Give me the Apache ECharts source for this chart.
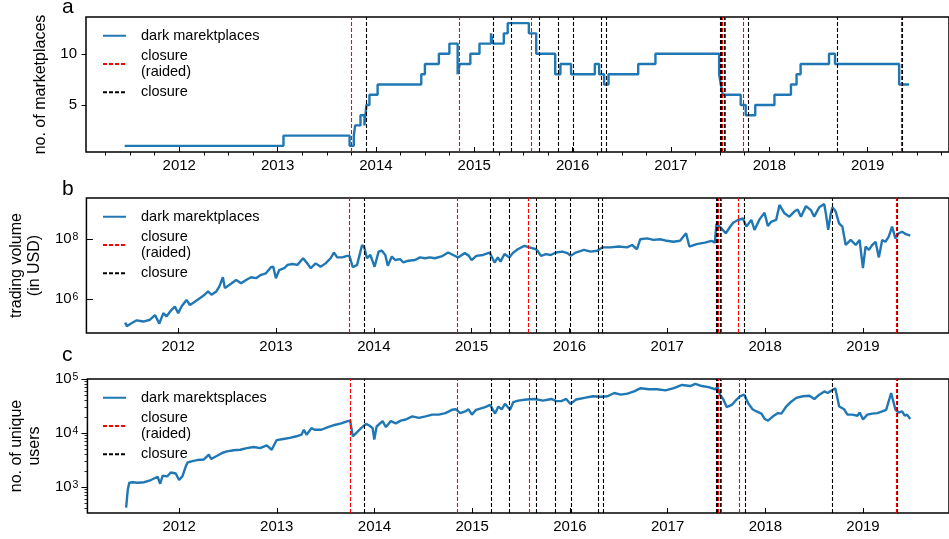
<!DOCTYPE html>
<html><head><meta charset="utf-8">
<script src="https://cdn.jsdelivr.net/npm/echarts@6/dist/echarts.min.js"></script>
<style>html,body{margin:0;padding:0;background:#fff}#c{width:949px;height:539px}</style>
</head><body><div id="c"></div>
<script>
// ---------------- data ----------------
const yearTicks = [2012, 2013, 2014, 2015, 2016, 2017, 2018, 2019];
const quarterTicks = [2011.25, 2011.5, 2011.75, 2012.25, 2012.5, 2012.75, 2013.25, 2013.5, 2013.75,
  2014.25, 2014.5, 2014.75, 2015.25, 2015.5, 2015.75, 2016.25, 2016.5, 2016.75, 2017.25, 2017.5, 2017.75,
  2018.25, 2018.5, 2018.75, 2019.25, 2019.5, 2019.75];
const countTicks = [5, 10];
const volumeTicks = [1e6, 1e8];
const usersTicks = [1e3, 1e4, 1e5];
const usersMinorTicks = [400, 500, 600, 700, 800, 900, 2000, 3000, 4000, 5000, 6000, 7000, 8000, 9000,
  20000, 30000, 40000, 50000, 60000, 70000, 80000, 90000];

// number of marketplaces: [date of change, new count]
const marketCount = [[2011.445,1],[2013.06,2],[2013.732,1],[2013.775,2],[2013.789,3],[2013.843,4],[2013.883,3],
  [2013.903,5],[2013.934,6],[2014.017,7],[2014.461,8],[2014.498,9],[2014.64,10],[2014.747,11],[2014.831,8],
  [2014.851,9],[2014.96,10],[2015.053,11],[2015.17,12],[2015.19,11],[2015.30,12],[2015.34,13],[2015.555,12],
  [2015.63,10],[2015.823,8],[2015.876,9],[2015.984,8],[2016.226,9],[2016.27,8],[2016.32,7],[2016.365,8],
  [2016.667,9],[2016.842,10],[2017.49,8],[2017.507,7],[2017.527,6],[2017.709,5],[2017.76,4],[2017.857,5],
  [2018.052,6],[2018.22,7],[2018.277,8],[2018.318,9],[2018.607,10],[2018.668,9],[2019.32,7],[2019.42,7]];

// trading volume in USD
const tradingVolume = [[2011.458,1.7e5],[2011.475,1.26e5],[2011.526,1.62e5],[2011.577,2.0e5],[2011.644,1.82e5],
  [2011.712,2.09e5],[2011.763,3.0e5],[2011.807,1.55e5],[2011.848,3.47e5],[2011.88,2.69e5],[2011.932,4.47e5],
  [2011.966,5.75e5],[2012.0,3.47e5],[2012.034,5.75e5],[2012.085,9.5e5],[2012.12,6.46e5],[2012.17,8.3e5],
  [2012.22,1.07e6],[2012.27,1.41e6],[2012.305,1.82e6],[2012.34,1.41e6],[2012.39,1.82e6],[2012.42,2.63e6],
  [2012.457,5.37e6],[2012.477,2.34e6],[2012.525,3.02e6],[2012.593,4.37e6],[2012.643,3.39e6],[2012.694,4.37e6],
  [2012.745,5.37e6],[2012.796,5.0e6],[2012.847,6.46e6],[2012.897,7.24e6],[2012.948,1.15e7],[2012.972,1.2e7],
  [2012.999,5.0e6],[2013.033,9.3e6],[2013.084,1.07e7],[2013.118,1.38e7],[2013.168,1.48e7],[2013.219,1.38e7],
  [2013.277,2.29e7],[2013.32,1.55e7],[2013.355,1.07e7],[2013.405,1.55e7],[2013.456,1.2e7],[2013.507,1.55e7],
  [2013.558,2.29e7],[2013.592,3.55e7],[2013.626,2.45e7],[2013.676,2.45e7],[2013.727,2.75e7],[2013.751,2.75e7],
  [2013.785,1.15e7],[2013.829,1.38e7],[2013.852,2.75e7],[2013.88,6.3e7],[2013.903,5.25e7],[2013.93,2.29e7],
  [2013.964,2.95e7],[2014.008,1.2e7],[2014.049,3.8e7],[2014.083,4.07e7],[2014.117,2.95e7],[2014.143,1.29e7],
  [2014.184,2.63e7],[2014.218,2.0e7],[2014.269,2.14e7],[2014.303,1.66e7],[2014.354,1.9e7],[2014.421,2.0e7],
  [2014.472,2.45e7],[2014.523,2.29e7],[2014.574,2.45e7],[2014.624,2.29e7],[2014.692,2.63e7],[2014.76,3.55e7],
  [2014.81,2.95e7],[2014.861,2.45e7],[2014.929,3.39e7],[2014.97,2.8e7],[2015.0,2.0e7],[2015.048,2.75e7],
  [2015.116,2.95e7],[2015.184,3.55e7],[2015.234,1.66e7],[2015.268,2.45e7],[2015.295,1.78e7],[2015.336,3.16e7],
  [2015.387,2.45e7],[2015.42,3.39e7],[2015.471,4.57e7],[2015.539,5.9e7],[2015.59,5.25e7],[2015.658,4.57e7],
  [2015.68,3.8e7],[2015.709,2.75e7],[2015.76,3.16e7],[2015.81,2.95e7],[2015.86,3.55e7],[2015.928,3.8e7],
  [2015.98,3.39e7],[2016.013,2.75e7],[2016.064,3.55e7],[2016.149,4.37e7],[2016.216,3.8e7],[2016.284,4.07e7],
  [2016.335,5.25e7],[2016.42,5.25e7],[2016.504,5.62e7],[2016.589,5.25e7],[2016.64,6.3e7],[2016.69,4.57e7],
  [2016.724,9.8e7],[2016.792,1.05e8],[2016.86,9.3e7],[2016.928,9.8e7],[2016.995,8.7e7],[2017.063,8.1e7],
  [2017.13,8.7e7],[2017.192,1.55e8],[2017.226,5.62e7],[2017.3,6.76e7],[2017.385,7.6e7],[2017.452,8.7e7],
  [2017.486,7.6e7],[2017.503,3.16e8],[2017.554,2.24e8],[2017.598,1.55e8],[2017.639,2.45e8],[2017.673,3.47e8],
  [2017.723,4.27e8],[2017.774,4.79e8],[2017.808,2.57e8],[2017.859,4.27e8],[2017.892,2.0e8],[2017.943,4.47e8],
  [2017.994,7.4e8],[2018.028,2.69e8],[2018.062,3.72e8],[2018.113,4.27e8],[2018.147,1.35e9],[2018.198,7.08e8],
  [2018.248,5.5e8],[2018.299,8.1e8],[2018.333,9.5e8],[2018.367,5.5e8],[2018.418,1.23e9],[2018.468,9.1e8],
  [2018.502,5.5e8],[2018.553,1.12e9],[2018.604,1.45e9],[2018.621,7.08e8],[2018.645,2.0e8],[2018.672,7.08e8],
  [2018.689,1.12e9],[2018.722,8.1e8],[2018.756,3.3e8],[2018.79,2.57e8],[2018.824,6.3e7],[2018.875,9.3e7],
  [2018.926,6.3e7],[2018.966,9.3e7],[2019.0,1.07e7],[2019.027,5.62e7],[2019.061,4.37e7],[2019.095,6.3e7],
  [2019.129,8.1e7],[2019.163,2.45e7],[2019.197,9.3e7],[2019.23,8.1e7],[2019.264,1.2e8],[2019.298,2.57e8],
  [2019.332,1.05e8],[2019.366,1.55e8],[2019.4,1.74e8],[2019.433,1.48e8],[2019.484,1.29e8]];

// number of unique users
const uniqueUsers = [[2011.458,417],[2011.475,890],[2011.49,1200],[2011.526,1230],[2011.577,1200],[2011.644,1230],
  [2011.712,1350],[2011.78,1550],[2011.807,1150],[2011.831,1620],[2011.88,1580],[2011.915,1860],[2011.966,1780],
  [2012.0,1350],[2012.034,1580],[2012.068,2400],[2012.085,2820],[2012.135,3020],[2012.186,3160],[2012.254,3240],
  [2012.305,3980],[2012.328,3310],[2012.39,3800],[2012.44,4270],[2012.49,4570],[2012.559,4790],[2012.626,4900],
  [2012.694,5250],[2012.762,5500],[2012.83,5250],[2012.897,5890],[2012.948,4900],[2012.999,7410],[2013.067,7760],
  [2013.135,8130],[2013.202,8710],[2013.253,9330],[2013.277,11500],[2013.304,9330],[2013.355,12300],
  [2013.388,11500],[2013.456,11500],[2013.524,12900],[2013.592,14100],[2013.659,15100],[2013.727,16600],
  [2013.751,17000],[2013.778,8710],[2013.812,10000],[2013.863,12300],[2013.914,14800],[2013.947,13800],
  [2013.981,12300],[2013.998,7590],[2014.022,13200],[2014.083,16600],[2014.117,12900],[2014.167,16600],
  [2014.218,15100],[2014.269,17000],[2014.32,17800],[2014.387,20400],[2014.455,19100],[2014.523,20400],
  [2014.591,21900],[2014.658,21900],[2014.726,23400],[2014.793,26900],[2014.834,27500],[2014.878,23400],
  [2014.929,25100],[2014.963,27500],[2014.997,21900],[2015.04,26900],[2015.133,30200],[2015.184,33100],
  [2015.234,22900],[2015.268,30900],[2015.302,27500],[2015.336,34700],[2015.387,26900],[2015.42,37200],
  [2015.471,39800],[2015.556,41700],[2015.641,42700],[2015.725,39800],[2015.81,42700],[2015.86,38900],
  [2015.912,38900],[2015.962,42700],[2016.006,34700],[2016.064,41700],[2016.149,44700],[2016.233,47900],
  [2016.318,46800],[2016.386,47900],[2016.454,55000],[2016.521,51300],[2016.589,53700],[2016.657,58900],
  [2016.724,67600],[2016.809,64600],[2016.894,64600],[2016.978,61700],[2017.063,67600],[2017.148,77600],
  [2017.232,74100],[2017.283,81300],[2017.351,74100],[2017.419,70800],[2017.486,64600],[2017.51,70800],
  [2017.537,51300],[2017.571,41700],[2017.605,30200],[2017.656,33100],[2017.706,41700],[2017.74,47900],
  [2017.784,51300],[2017.825,35500],[2017.869,27500],[2017.91,25100],[2017.96,22900],[2017.994,18200],
  [2018.028,17000],[2018.079,20400],[2018.13,23400],[2018.164,22900],[2018.214,30900],[2018.265,38000],
  [2018.316,44700],[2018.384,47900],[2018.451,49000],[2018.502,42700],[2018.553,51300],[2018.604,58900],
  [2018.638,55000],[2018.682,61700],[2018.716,67600],[2018.756,30900],[2018.807,27500],[2018.841,21900],
  [2018.892,21900],[2018.943,20900],[2018.966,24000],[2019.0,17800],[2019.044,21900],[2019.095,22900],
  [2019.146,23400],[2019.197,25100],[2019.237,26900],[2019.288,55000],[2019.332,26900],[2019.366,24000],
  [2019.4,25100],[2019.427,20900],[2019.45,21900],[2019.484,18200]];

// closure dates (decimal years)
const raidedClosures = [2013.75, 2014.845, 2015.58, 2017.523, 2017.553, 2017.73, 2019.336];
const closures = [2013.905, 2015.195, 2015.382, 2015.656, 2015.846, 2016.005, 2016.287, 2016.342,
  2017.497, 2017.51, 2017.538, 2017.785, 2018.688, 2019.346];

// ---------------- chart ----------------
const FONT = '"Liberation Sans", Arial, Helvetica, sans-serif';
const BLUE = '#1f77b4';
const RED = '#ff0000';
const BLACK = '#000000';
const chart = echarts.init(document.getElementById('c'), null, {renderer: 'canvas'});

const supRich = {
  b: {fontSize: 15, fontFamily: FONT, color: '#000', lineHeight: 15, verticalAlign: 'bottom'},
  s: {fontSize: 10.5, fontFamily: FONT, color: '#000', lineHeight: 10, verticalAlign: 'top', padding: [0, 0, 12, 1]}
};
const supFmt = v => '{b|10}{s|' + Math.round(Math.log10(v)) + '}';

function xMajor(gridIndex, min, max) {
  return {type: 'value', gridIndex, min, max, position: 'bottom',
    axisLine: {show: false}, splitLine: {show: false},
    axisTick: {show: true, inside: true, length: 5, customValues: yearTicks, lineStyle: {color: '#000', width: 1}},
    axisLabel: {show: true, customValues: yearTicks, margin: 6, fontSize: 15, color: '#000', fontFamily: FONT,
      formatter: v => String(Math.round(v))}};
}

function legendFor(top, firstName) {
  return {orient: 'vertical', left: 102, top, padding: 0, itemGap: 5, itemWidth: 23, itemHeight: 12,
    selectedMode: false, data: [firstName, 'closure\n(raided)', 'closure'],
    itemStyle: {opacity: 0, borderWidth: 0},
    textStyle: {fontSize: 14.5, lineHeight: 15.5, color: '#000', fontFamily: FONT, padding: [0, 0, 0, 10]}};
}

function closureSeries(name, color, values, xi, yi, z) {
  return {type: 'line', name, xAxisIndex: xi, yAxisIndex: yi, data: [], symbol: 'none', showSymbol: false,
    color, itemStyle: {color}, lineStyle: {color, width: 1.1, type: [4, 2]}, z,
    markLine: {silent: true, symbol: ['none', 'none'], label: {show: false}, animation: false, z,
      lineStyle: {color, width: 1.1, type: [4, 2], opacity: 1}, emphasis: {disabled: true},
      data: values.map(v => ({xAxis: v, lineStyle: {color, width: 1.1, type: [4, 2], opacity: 1}}))}};
}

function dataSeries(name, data, xi, yi, step) {
  const s = {type: 'line', name, xAxisIndex: xi, yAxisIndex: yi, data, symbol: 'none', showSymbol: false,
    color: BLUE, itemStyle: {color: BLUE}, lineStyle: {color: BLUE, width: 2.4}, z: 2};
  if (step) s.step = step;
  return s;
}

const gridStyle = {show: true, borderColor: '#000', borderWidth: 1.5, backgroundColor: 'transparent'};

const option = {
  animation: false,
  backgroundColor: '#fff',
  textStyle: {fontFamily: FONT},
  grid: [
    Object.assign({left: 86, top: 17, width: 870, height: 135}, gridStyle),
    Object.assign({left: 86, top: 198, width: 868, height: 135}, gridStyle),
    Object.assign({left: 86, top: 379, width: 868, height: 134}, gridStyle)
  ],
  xAxis: [
    xMajor(0, 2011.052, 2019.827),
    {type: 'value', gridIndex: 0, min: 2011.052, max: 2019.827, position: 'bottom',
      axisLine: {show: false}, splitLine: {show: false}, axisLabel: {show: false},
      axisTick: {show: true, inside: false, length: 3.5, customValues: quarterTicks, lineStyle: {color: '#000', width: 1}}},
    xMajor(1, 2011.062, 2019.88),
    xMajor(2, 2011.062, 2019.88)
  ],
  yAxis: [
    {type: 'value', gridIndex: 0, min: 0.4, max: 13.6, position: 'left',
      axisLine: {show: false}, splitLine: {show: false},
      axisTick: {show: true, inside: false, length: 4.5, customValues: countTicks, lineStyle: {color: '#000', width: 1}},
      axisLabel: {customValues: countTicks, margin: 9, fontSize: 15, color: '#000', fontFamily: FONT, formatter: v => String(v)},
      name: 'no. of marketplaces', nameLocation: 'middle', nameRotate: 90, nameGap: 34,
      nameTextStyle: {fontSize: 16, color: '#000', fontFamily: FONT, lineHeight: 18}},
    {type: 'log', logBase: 10, gridIndex: 1, min: 75858, max: 2.29e9, position: 'left',
      axisLine: {show: false}, splitLine: {show: false}, minorTick: {show: false},
      axisTick: {show: true, inside: true, length: 6.5, customValues: volumeTicks, lineStyle: {color: '#000', width: 1}},
      axisLabel: {customValues: volumeTicks, margin: 8, formatter: supFmt, rich: supRich},
      name: 'trading volume\n(in USD)', nameLocation: 'middle', nameRotate: 90, nameGap: 40,
      nameTextStyle: {fontSize: 16, color: '#000', fontFamily: FONT, lineHeight: 18}},
    {type: 'log', logBase: 10, gridIndex: 2, min: 331, max: 1e5, position: 'left',
      axisLine: {show: false}, splitLine: {show: false}, minorTick: {show: false},
      axisTick: {show: true, inside: false, length: 6, customValues: usersTicks, lineStyle: {color: '#000', width: 1}},
      axisLabel: {customValues: usersTicks, margin: 9, formatter: supFmt, rich: supRich},
      name: 'no. of unique\nusers', nameLocation: 'middle', nameRotate: 90, nameGap: 40,
      nameTextStyle: {fontSize: 16, color: '#000', fontFamily: FONT, lineHeight: 18}},
    {type: 'log', logBase: 10, gridIndex: 2, min: 331, max: 1e5, position: 'left',
      axisLine: {show: false}, splitLine: {show: false}, axisLabel: {show: false},
      axisTick: {show: true, inside: false, length: 3, customValues: usersMinorTicks, lineStyle: {color: '#000', width: 0.8}}}
  ],
  legend: [
    legendFor(28, 'dark marektplaces'),
    legendFor(209, 'dark marektplaces'),
    legendFor(390, 'dark marektsplaces')
  ],
  graphic: [
    {type: 'text', x: 62, y: 7.5, style: {text: 'a', fontSize: 21, fontFamily: FONT, fill: '#000', verticalAlign: 'middle', align: 'left'}},
    {type: 'text', x: 62, y: 189, style: {text: 'b', fontSize: 21, fontFamily: FONT, fill: '#000', verticalAlign: 'middle', align: 'left'}},
    {type: 'text', x: 62, y: 355, style: {text: 'c', fontSize: 21, fontFamily: FONT, fill: '#000', verticalAlign: 'middle', align: 'left'}}
  ],
  series: [
    dataSeries('dark marektplaces', marketCount, 0, 0, 'end'),
    closureSeries('closure\n(raided)', RED, raidedClosures, 0, 0, 3),
    closureSeries('closure', BLACK, closures, 0, 0, 4),
    dataSeries('dark marektplaces', tradingVolume, 2, 1),
    closureSeries('closure\n(raided)', RED, raidedClosures, 2, 1, 3),
    closureSeries('closure', BLACK, closures, 2, 1, 4),
    dataSeries('dark marektsplaces', uniqueUsers, 3, 2),
    closureSeries('closure\n(raided)', RED, raidedClosures, 3, 2, 3),
    closureSeries('closure', BLACK, closures, 3, 2, 4)
  ]
};
chart.setOption(option);
</script>
</body></html>
